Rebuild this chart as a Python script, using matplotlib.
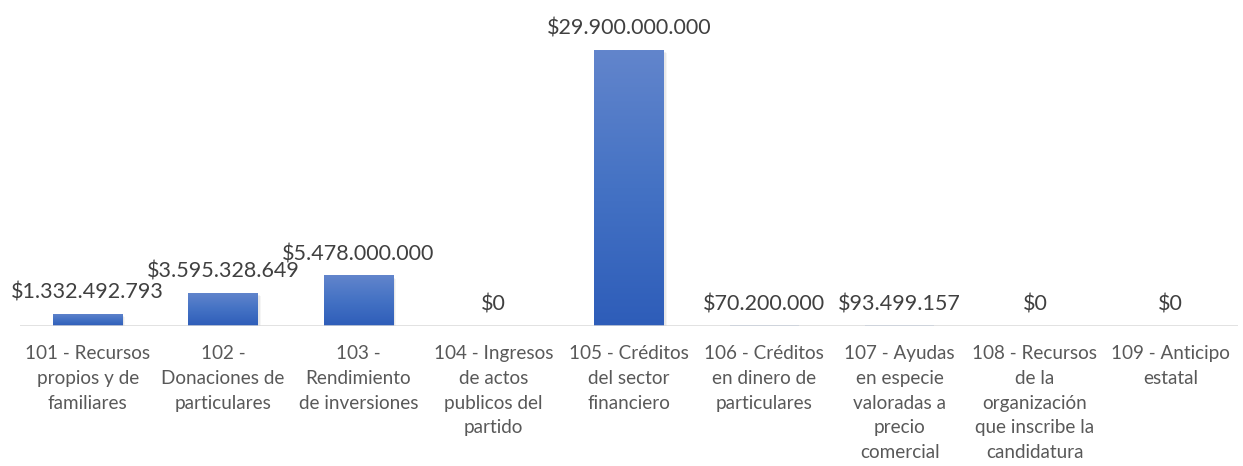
import matplotlib
matplotlib.use("Agg")
import matplotlib.pyplot as plt
import numpy as np
from matplotlib.colors import LinearSegmentedColormap

categories = [
    "101 - Recursos\npropios y de\nfamiliares",
    "102 -\nDonaciones de\nparticulares",
    "103 -\nRendimiento\nde inversiones",
    "104 - Ingresos\nde actos\npublicos del\npartido",
    "105 - Créditos\ndel sector\nfinanciero",
    "106 - Créditos\nen dinero de\nparticulares",
    "107 - Ayudas\nen especie\nvaloradas a\nprecio\ncomercial",
    "108 - Recursos\nde la\norganización\nque inscribe la\ncandidatura",
    "109 - Anticipo\nestatal",
]
values = [1332492793, 3595328649, 5478000000, 0, 29900000000, 70200000, 93499157, 0, 0]

def fmt(v):
    return "$" + f"{v:,}".replace(",", ".")

plt.rcParams['font.family'] = ['Lato', 'DejaVu Sans']

fig = plt.figure(figsize=(12.43, 4.66), dpi=100)
ax = fig.add_axes([20/1243, 140/466, 1218/1243, 323/466])
x = np.arange(len(values))
ax.set_xlim(-0.5, len(values) - 0.5)
ax.set_ylim(0, 35e9)

cmap = LinearSegmentedColormap.from_list("g", ["#2E5DB9", "#4472C4", "#6285CC"])
grad = np.linspace(0, 1, 256).reshape(-1, 1)
width = 0.51
# soft shadows
for xi, v in zip(x, values):
    if v > 2e8:
        for k, a in enumerate([0.05, 0.05, 0.04]):
            ax.bar(xi + 0.006 * (k + 1), v, width=width + 0.006 * k, color="#000000",
                   alpha=a, bottom=-0.12e9 * (k + 1), zorder=1, lw=0)
bars = ax.bar(x, values, width=width, color="#4472C4", zorder=2, lw=0)
for b, v in zip(bars, values):
    if v <= 0:
        continue
    if v < 2e8:
        b.set_color("#B4C7E7")
        continue
    x0 = b.get_x(); x1 = x0 + b.get_width()
    im = ax.imshow(grad, cmap=cmap, extent=[x0, x1, 0, v], aspect="auto",
                   origin="lower", zorder=3, vmin=0, vmax=1)
    im.set_clip_path(b)

for xi, v in zip(x, values):
    ax.annotate(fmt(v), (xi, v), xytext=(0, 8), textcoords="offset points",
                ha="center", va="bottom", fontsize=15.5, color="#404040")

ax.axhline(0, color="#D9D9D9", lw=1.8, zorder=4)
for s in ax.spines.values():
    s.set_visible(False)
ax.set_yticks([])
ax.set_xticks(x)
ax.set_xticklabels(categories, fontsize=13.6, color="#595959", linespacing=1.54)
ax.tick_params(axis="x", length=0, pad=14)

fig.savefig("out.png", dpi=100)
